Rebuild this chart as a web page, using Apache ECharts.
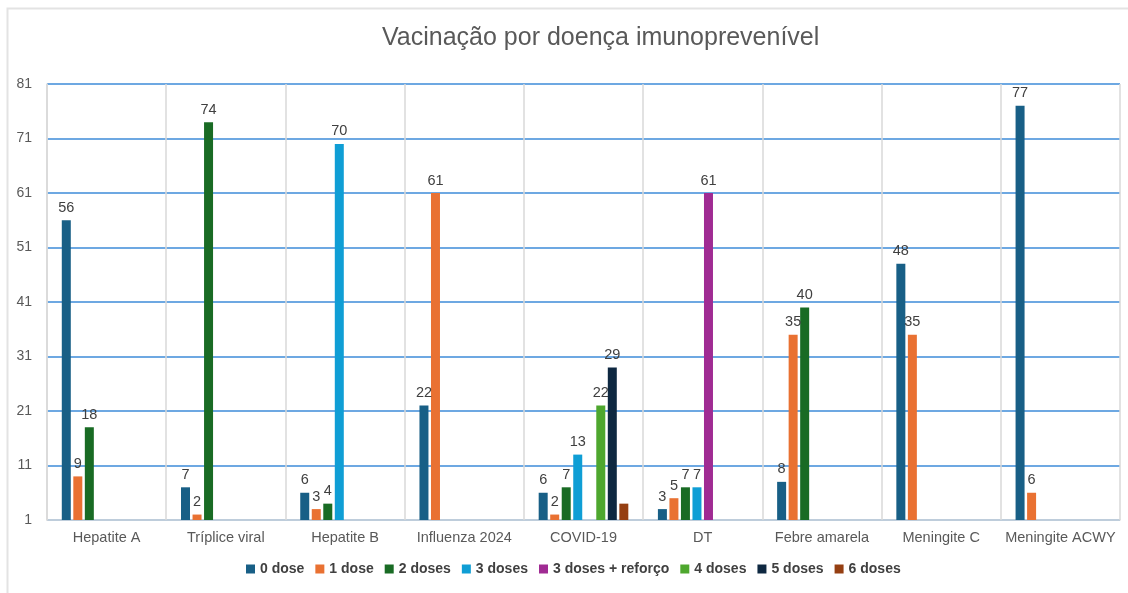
<!DOCTYPE html>
<html>
<head>
<meta charset="utf-8">
<script src="https://cdn.jsdelivr.net/npm/echarts@6/dist/echarts.min.js"></script>
<style>
  html, body { margin: 0; padding: 0; background: #fff; }
  #chart { width: 1128px; height: 593px; }
</style>
</head>
<body>
<div id="chart"></div>
<script>
const categories = ['Hepatite A', 'Tríplice viral', 'Hepatite B', 'Influenza 2024', 'COVID-19', 'DT', 'Febre amarela', 'Meningite C', 'Meningite ACWY']
const seriesNames = ['0 dose', '1 dose', '2 doses', '3 doses', '3 doses + reforço', '4 doses', '5 doses', '6 doses']
const dose0 = [56, 7, 6, 22, 6, 3, 8, 48, 77]
const dose1 = [9, 2, 3, 61, 2, 5, 35, 35, 6]
const dose2 = [18, 74, 4, null, 7, 7, 40, null, null]
const dose3 = [null, null, 70, null, 13, 7, null, null, null]
const dose3r = [null, null, null, null, null, 61, null, null, null]
const dose4 = [null, null, null, null, 22, null, null, null, null]
const dose5 = [null, null, null, null, 29, null, null, null, null]
const dose6 = [null, null, null, null, 4, null, null, null, null]
const yTicks = { min: 1, max: 81, step: 10 }

const allValues = [dose0, dose1, dose2, dose3, dose3r, dose4, dose5, dose6]
const colors = ['#185f86', '#e97132', '#196b24', '#0f9ed5', '#a02b93', '#4ea72e', '#0e2841', '#953f12']

const chart = echarts.init(document.getElementById('chart'))

const series = seriesNames.map((name, i) => ({
  name,
  type: 'bar',
  data: allValues[i],
  barWidth: 9,
  barGap: '28%',
  itemStyle: { color: colors[i] },
  label: {
    show: i !== 7,
    position: 'top',
    distance: 5,
    fontSize: 14.5,
    color: '#404040'
  }
}))

chart.setOption({
  animation: false,
  textStyle: { fontFamily: 'Liberation Sans, Arial, sans-serif' },
  title: {
    text: 'Vacinação por doença imunoprevenível',
    left: 377,
    top: 21,
    textStyle: { fontSize: 25, fontWeight: 'normal', color: '#595959' }
  },
  graphic: [{
    type: 'rect',
    shape: { x: 7.5, y: 8.5, width: 1140, height: 600 },
    style: { fill: 'none', stroke: '#e3e3e3', lineWidth: 2 },
    silent: true
  }],
  legend: {
    bottom: 12,
    left: 241,
    itemWidth: 9,
    itemHeight: 9,
    itemGap: 11,
    icon: 'rect',
    textStyle: { fontSize: 14, color: '#404040', fontWeight: 'bold' }
  },
  grid: { left: 47, right: 8, top: 84, bottom: 73 },
  xAxis: {
    type: 'category',
    data: categories,
    axisTick: { show: false },
    axisLine: { lineStyle: { color: '#d9d9d9', width: 1.5 } },
    splitLine: { show: true, interval: 0, lineStyle: { color: '#d9d9d9', width: 1.5 } },
    axisLabel: { interval: 0, fontSize: 14.5, color: '#595959', margin: 10 }
  },
  yAxis: {
    type: 'value',
    min: yTicks.min,
    max: yTicks.max,
    interval: yTicks.step,
    axisLine: { show: true, lineStyle: { color: '#d9d9d9', width: 1.5 } },
    axisTick: { show: false },
    splitLine: { lineStyle: { color: '#3d8bd8', width: 1.5 } },
    axisLabel: { fontSize: 14, color: '#595959', margin: 15 }
  },
  series
})
</script>
</body>
</html>
